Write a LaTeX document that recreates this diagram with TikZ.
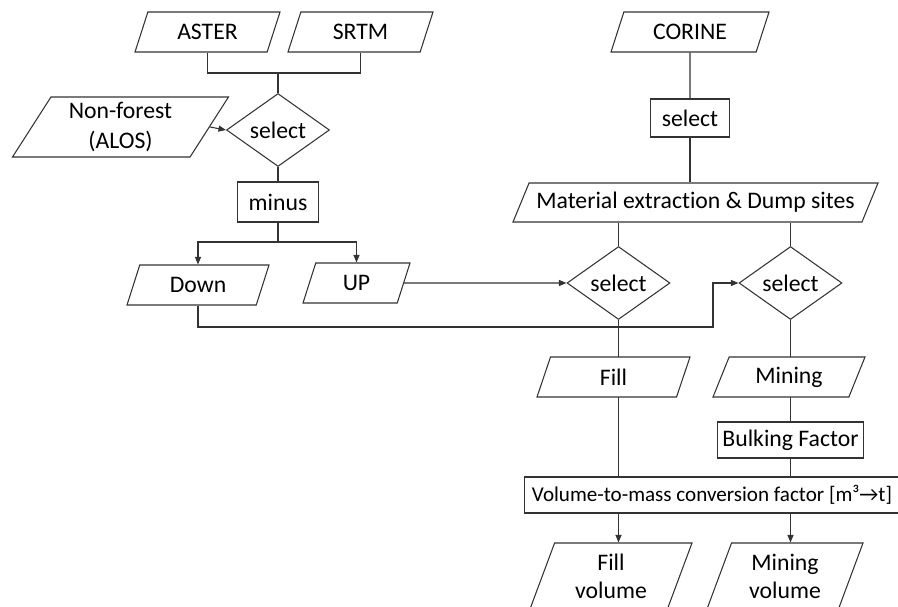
\documentclass[tikz,border=0pt]{standalone}
\usepackage{fontspec}
\setmainfont{Carlito}[Ligatures=NoCommon]
\usetikzlibrary{shapes.geometric,arrows.meta,backgrounds}

\tikzset{
    data/.style={draw, fill=white, trapezium, trapezium left angle=56, trapezium right angle=124,
        trapezium stretches body, minimum height=0.8cm, inner sep=1pt, align=center},
    decide/.style={draw, fill=white, diamond, minimum width=2.06cm, minimum height=1.24cm, inner sep=0pt},
    proc/.style={draw, fill=white, rectangle, minimum height=0.76cm, inner sep=2pt},
    line/.style={draw=black!80, line width=0.6pt},
    arr/.style={line, -{Triangle[length=1.5mm,width=1.2mm]}}
}

\begin{document}
\begin{tikzpicture}[font=\fontsize{13.5}{17}\selectfont, every node/.append style={line width=0.6pt, draw=black!80}]
        \useasboundingbox (0,0) rectangle (17.96,12.12);

        % DEM inputs
        \node[data, minimum width=2.9cm] (aster) at (4.15,11.48) {ASTER};
        \node[data, minimum width=2.9cm] (srtm) at (7.21,11.48) {SRTM};
        \node[data, minimum width=4.32cm, minimum height=1.2cm, trapezium left angle=54,
            trapezium right angle=126] (nonforest) at (2.41,9.58) {Non-forest\\(ALOS)};
        \node[decide] (selA) at (5.56,9.52) {select};
        \node[proc, minimum width=1.62cm, minimum height=0.8cm] (minus) at (5.56,8.08) {minus};
        \node[data, minimum width=2.84cm] (down) at (3.96,6.42) {Down};
        \node[data, minimum width=2.14cm] (up) at (7.13,6.46) {UP};

        % Land cover
        \node[data, minimum width=3.16cm] (corine) at (13.80,11.48) {CORINE};
        \node[proc, minimum width=1.58cm] (selC) at (13.80,9.76) {select};
        \node[data, minimum width=7.3cm, minimum height=0.78cm] (material) at (13.91,8.07) {Material extraction \& Dump sites};
        \node[decide] (selUp) at (12.37,6.46) {select};
        \node[decide] (selDown) at (15.81,6.46) {select};

        % Volumes
        \node[data, minimum width=3.06cm] (fill) at (12.27,4.58) {Fill};
        \node[data, minimum width=3.04cm] (mining) at (15.78,4.58) {Mining};
        \node[proc, minimum width=2.92cm, minimum height=0.72cm] (bulking) at (15.81,3.32) {Bulking Factor};
        \node[proc, minimum width=7.5cm, minimum height=0.72cm, inner sep=0pt,
            font=\fontsize{12}{15}\selectfont] (convert) at (14.24,2.22) {Volume-to-mass conversion factor [m³→t]};
        \node[data, minimum width=3.24cm, minimum height=1.32cm, trapezium left angle=63,
            trapezium right angle=117, font=\fontsize{13.5}{16}\selectfont] (fillvol) at (12.22,0.6) {Fill\\volume};
        \node[data, minimum width=3.12cm, minimum height=1.32cm, trapezium left angle=63,
            trapezium right angle=117, font=\fontsize{13.5}{16}\selectfont] (minvol) at (15.70,0.6) {Mining\\volume};

        % Junctions
        \coordinate (topjoin) at (5.56,10.66);
        \coordinate (split) at (5.56,7.28);
        \coordinate (bend) at (14.26,5.58);

        % Connectors (behind the boxes)
        \begin{pgfonlayer}{background}
        \draw[line] (aster.south) |- (topjoin) -| (srtm.south);
        \draw[line] (topjoin) -- (selA.north);
        \draw[line] (selA.south) -- (minus.north);
        \draw[line] (minus.south) -- (split);
        \draw[line] (corine.south) -- (selC.north);
        \draw[line] (selC.south) -- (selC.south |- material.north);
        \draw[line] (selUp.north |- material.south) -- (selUp.north);
        \draw[line] (selDown.north |- material.south) -- (selDown.north);
        \draw[line] (selUp.south) -- (selUp.south |- convert.north);
        \draw[line] (selDown.south) -- (selDown.south |- bulking.north);
        \draw[line] (bulking.south) -- (convert.north -| bulking.south);
        \end{pgfonlayer}
        \draw[arr] (nonforest.east) -- (selA.west);
        \draw[arr] (split) -| (down.north);
        \draw[arr] (split) -| (up.north);
        \draw[arr] (up.east) -- (selUp.west);
        \draw[arr] (down.south) |- (bend) |- (selDown.west);
        \draw[arr] (selUp.south |- convert.south) -- (selUp.south |- fillvol.north);
        \draw[arr] (selDown.south |- convert.south) -- (selDown.south |- minvol.north);
    \end{tikzpicture}
\end{document}
